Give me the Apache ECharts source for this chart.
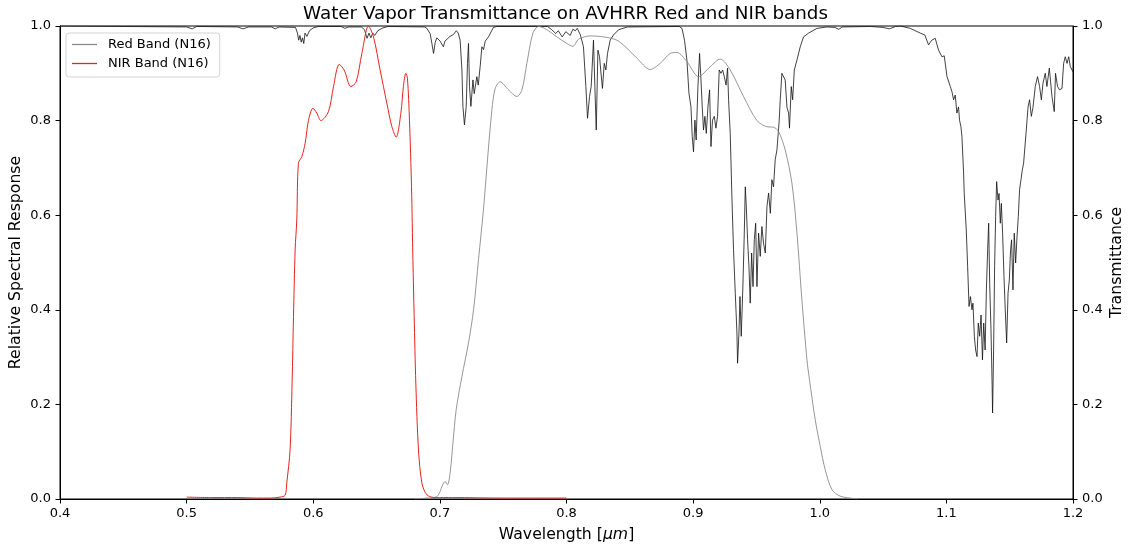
<!DOCTYPE html>
<html>
<head>
<meta charset="utf-8">
<script src="https://cdn.jsdelivr.net/npm/echarts@6/dist/echarts.min.js"></script>
<style>
html,body{margin:0;padding:0;background:#fff;}
#chart{width:1131px;height:548px;}
</style>
</head>
<body>
<div id="chart"></div>
<script>
// ---- data (wavelength in µm, value) ----
const chartTitle = 'Water Vapor Transmittance on AVHRR Red and NIR bands';
const redBandName = 'Red Band (N16)';
const nirBandName = 'NIR Band (N16)';
const xTicks = [0.4, 0.5, 0.6, 0.7, 0.8, 0.9, 1.0, 1.1, 1.2];
const yTicks = [0.0, 0.2, 0.4, 0.6, 0.8, 1.0];

// red-coloured curve (legend "NIR Band (N16)")
const nirBand = [[0.500,0.004],[0.520,0.003],[0.540,0.003],[0.555,0.002],[0.566,0.002],[0.5738,0.004],[0.5778,0.008],
 [0.5791,0.034],[0.5817,0.104],[0.5833,0.246],[0.5844,0.386],[0.5857,0.527],[0.5870,0.590],[0.5883,0.710],[0.5910,0.724],
 [0.5936,0.752],[0.5962,0.800],[0.5997,0.826],[0.6028,0.816],[0.6060,0.800],[0.6120,0.819],[0.6160,0.872],[0.6205,0.919],
 [0.6244,0.907],[0.6297,0.872],[0.6339,0.882],[0.6384,0.942],[0.6436,1.000],[0.6476,0.977],[0.6528,0.907],[0.6581,0.837],
 [0.6621,0.787],[0.6655,0.765],[0.6692,0.816],[0.6712,0.872],[0.6731,0.900],[0.6744,0.889],[0.6760,0.800],[0.6776,0.660],
 [0.6787,0.506],[0.6797,0.386],[0.6810,0.245],[0.6831,0.104],[0.6858,0.034],[0.6897,0.009],[0.6963,0.003],[0.7100,0.003],
 [0.7500,0.002],[0.8000,0.002]];

// grey curve (legend "Red Band (N16)")
const redBand = [[0.680,0.000],[0.690,0.002],[0.6976,0.005],[0.7029,0.034],[0.7042,0.037],[0.7060,0.030],[0.7081,0.055],
 [0.7103,0.118],[0.7129,0.189],[0.7174,0.259],[0.7226,0.330],[0.7266,0.400],[0.7305,0.506],[0.7344,0.611],[0.7376,0.717],
 [0.7411,0.823],[0.7437,0.868],[0.7476,0.882],[0.7542,0.865],[0.7608,0.851],[0.7648,0.865],[0.7687,0.921],[0.7735,0.985],
 [0.7780,0.999],[0.7840,0.993],[0.7924,0.977],[0.8003,0.963],[0.8050,0.957],[0.8095,0.972],[0.8187,0.979],[0.8292,0.977],
 [0.8398,0.970],[0.8477,0.953],[0.8556,0.932],[0.8661,0.908],[0.8740,0.921],[0.8819,0.942],[0.8872,0.944],[0.8950,0.925],
 [0.9043,0.893],[0.9135,0.914],[0.9214,0.930],[0.9293,0.907],[0.9398,0.851],[0.9504,0.800],[0.9583,0.787],[0.9635,0.786],
 [0.9675,0.777],[0.9727,0.738],[0.9780,0.668],[0.9820,0.562],[0.9859,0.421],[0.9899,0.294],[0.9919,0.252],[0.9964,0.168],
 [1.0004,0.111],[1.0043,0.062],[1.0096,0.020],[1.0162,0.006],[1.0267,0.001],[1.0300,0.000]];

// black curve: water vapour transmittance (right axis)
const transmittance = [[0.400,1.000],[0.450,0.999],[0.500,0.998],[0.5044,0.994],[0.508,0.999],[0.540,0.998],[0.5446,0.994],[0.549,0.998],
 [0.567,0.998],[0.570,0.994],[0.573,0.998],[0.586,0.997],[0.5875,0.985],[0.5885,0.970],[0.5895,0.980],[0.5905,0.966],[0.5915,0.975],
 [0.5925,0.963],[0.5935,0.985],[0.595,0.978],[0.597,0.990],[0.600,0.996],[0.604,0.999],[0.622,0.999],[0.625,0.995],[0.628,0.998],
 [0.638,0.998],[0.6405,0.992],[0.6425,0.974],[0.644,0.985],[0.6455,0.975],[0.647,0.985],[0.6485,0.980],[0.651,0.990],[0.655,0.996],
 [0.659,0.999],[0.688,0.998],[0.6897,0.995],[0.6923,0.984],[0.6937,0.963],[0.695,0.942],[0.6963,0.965],[0.6976,0.975],[0.7002,0.968],
 [0.7028,0.956],[0.704,0.968],[0.7055,0.972],[0.708,0.978],[0.7107,0.982],[0.713,0.990],[0.7145,0.985],[0.716,0.970],[0.7174,0.907],
 [0.7182,0.830],[0.7194,0.791],[0.7208,0.830],[0.7218,0.921],[0.7226,0.963],[0.7234,0.872],[0.7245,0.830],[0.7261,0.886],[0.7271,0.857],
 [0.7292,0.893],[0.7303,0.875],[0.7318,0.914],[0.7332,0.956],[0.7345,0.950],[0.7358,0.968],[0.7384,0.977],[0.7423,0.997],[0.745,0.999],
 [0.785,0.999],[0.788,0.993],[0.7915,0.984],[0.7935,0.990],[0.7966,0.977],[0.7995,0.988],[0.8029,0.980],[0.805,0.993],[0.807,0.990],
 [0.8085,0.995],[0.811,0.981],[0.8134,0.956],[0.8153,0.872],[0.8166,0.805],[0.8182,0.851],[0.8195,0.872],[0.8213,0.970],[0.8224,0.872],
 [0.8235,0.780],[0.8248,0.949],[0.8261,0.935],[0.827,0.907],[0.8284,0.868],[0.8298,0.921],[0.8311,0.907],[0.8324,0.942],[0.8345,0.970],
 [0.8371,0.981],[0.8411,0.992],[0.848,0.998],[0.889,0.999],[0.8912,0.995],[0.8932,0.970],[0.8951,0.928],[0.8967,0.858],[0.8983,0.829],
 [0.8993,0.766],[0.9003,0.734],[0.9014,0.801],[0.9024,0.759],[0.9038,0.872],[0.9051,0.942],[0.9062,0.886],[0.9072,0.829],[0.9082,0.780],
 [0.9093,0.809],[0.9104,0.773],[0.9117,0.829],[0.9130,0.865],[0.9141,0.745],[0.9153,0.801],[0.9167,0.809],[0.918,0.784],[0.9193,0.809],
 [0.9206,0.907],[0.922,0.900],[0.9233,0.907],[0.9246,0.893],[0.926,0.875],[0.9272,0.911],[0.928,0.844],[0.9293,0.773],[0.9307,0.632],
 [0.9319,0.527],[0.9333,0.435],[0.9346,0.351],[0.9351,0.287],[0.9362,0.351],[0.937,0.428],[0.938,0.344],[0.9393,0.449],[0.9404,0.562],
 [0.9412,0.660],[0.942,0.618],[0.943,0.548],[0.9441,0.491],[0.9451,0.414],[0.9462,0.520],[0.9473,0.449],[0.9483,0.548],[0.9494,0.583],
 [0.9504,0.449],[0.9517,0.562],[0.953,0.513],[0.9543,0.576],[0.9556,0.541],[0.957,0.520],[0.9583,0.618],[0.9596,0.647],[0.961,0.604],
 [0.9622,0.675],[0.9635,0.660],[0.9648,0.717],[0.9662,0.738],[0.9672,0.773],[0.968,0.801],[0.9688,0.844],[0.9701,0.900],[0.9714,0.903],
 [0.9727,0.886],[0.9741,0.828],[0.9754,0.816],[0.9761,0.784],[0.9775,0.872],[0.9786,0.844],[0.9799,0.907],[0.982,0.928],[0.9846,0.956],
 [0.9872,0.977],[0.9912,0.985],[0.9978,0.995],[1.0057,0.998],[1.012,0.997],[1.015,0.993],[1.018,0.998],[1.040,0.999],[1.050,0.997],
 [1.055,0.994],[1.060,0.999],[1.0636,1.000],[1.0715,0.995],[1.0794,0.985],[1.083,0.981],[1.0859,0.960],[1.0885,0.970],[1.0912,0.974],
 [1.0938,0.949],[1.0965,0.935],[1.0983,0.937],[1.1005,0.893],[1.1031,0.872],[1.1044,0.861],[1.1057,0.844],[1.107,0.854],[1.1083,0.816],
 [1.1096,0.829],[1.1104,0.801],[1.1115,0.787],[1.1123,0.766],[1.1136,0.689],[1.1141,0.646],[1.1157,0.569],[1.1168,0.491],[1.1179,0.407],
 [1.119,0.428],[1.1202,0.400],[1.121,0.414],[1.1221,0.344],[1.1231,0.315],[1.1242,0.301],[1.1252,0.372],[1.1263,0.344],[1.1274,0.389],
 [1.1285,0.294],[1.1295,0.372],[1.1306,0.315],[1.1316,0.442],[1.1326,0.527],[1.1334,0.583],[1.1342,0.456],[1.1353,0.351],[1.1361,0.245],
 [1.1365,0.182],[1.1373,0.315],[1.1381,0.491],[1.1389,0.597],[1.1397,0.671],[1.1408,0.632],[1.1416,0.646],[1.1426,0.583],[1.1434,0.625],
 [1.1444,0.562],[1.1455,0.470],[1.1465,0.400],[1.1476,0.330],[1.1487,0.435],[1.1497,0.463],[1.1507,0.527],[1.1515,0.548],[1.1526,0.442],
 [1.1536,0.562],[1.1547,0.499],[1.1558,0.555],[1.1568,0.597],[1.1578,0.654],[1.1589,0.675],[1.160,0.696],[1.161,0.710],[1.1631,0.780],
 [1.1645,0.829],[1.1657,0.844],[1.1671,0.809],[1.1684,0.828],[1.1702,0.872],[1.172,0.893],[1.1736,0.872],[1.175,0.844],[1.1763,0.879],
 [1.1781,0.900],[1.1794,0.872],[1.1813,0.911],[1.1834,0.851],[1.1852,0.819],[1.1862,0.900],[1.1878,0.872],[1.1894,0.865],[1.1913,0.868],
 [1.1926,0.921],[1.1939,0.935],[1.1953,0.921],[1.1966,0.935],[1.1979,0.914],[1.200,0.903]];

const FONT = '"DejaVu Sans", sans-serif';
const chart = echarts.init(document.getElementById('chart'), null, {renderer: 'canvas'});

const yAxisBase = {
  type: 'value', min: 0, max: 1, interval: 0.2,
  nameLocation: 'middle', nameMoveOverlap: false,
  nameTextStyle: {fontFamily: FONT, fontSize: 15.7, color: '#000'},
  axisLine: {show: true, lineStyle: {color: '#000', width: 1}},
  axisTick: {show: true, length: 4.5, lineStyle: {color: '#000', width: 1}},
  axisLabel: {fontFamily: FONT, fontSize: 13, color: '#000', margin: 9,
    formatter: v => v.toFixed(1)},
  splitLine: {show: false}
};

chart.setOption({
  animation: false,
  backgroundColor: '#fff',
  title: {
    text: chartTitle, left: 'center', top: 0,
    textStyle: {fontFamily: FONT, fontSize: 18.3, fontWeight: 'normal', color: '#000'}
  },
  grid: {left: 60, right: 58, top: 26, bottom: 49, containLabel: false, outerBoundsMode: 'none',
    show: true, borderColor: '#000', borderWidth: 1, backgroundColor: 'transparent'},
  legend: {
    data: [redBandName, nirBandName],
    orient: 'vertical', left: 66, top: 33,
    icon: 'rect', itemWidth: 25, itemHeight: 1.3, itemGap: 4,
    padding: [4, 9, 6, 6],
    backgroundColor: 'rgba(255,255,255,0.85)', borderColor: '#d3d3d3', borderWidth: 1, borderRadius: 3,
    textStyle: {fontFamily: FONT, fontSize: 13, color: '#000', lineHeight: 15, padding: [0, 0, 0, 6]}
  },
  xAxis: {
    type: 'value', min: 0.4, max: 1.2, interval: 0.1,
    name: 'Wavelength [{i|μm}]', nameLocation: 'middle', nameGap: 28, nameMoveOverlap: false,
    nameTextStyle: {fontFamily: FONT, fontSize: 15.7, color: '#000',
      rich: {i: {fontFamily: FONT, fontSize: 15.7, fontStyle: 'italic', color: '#000'}}},
    axisLine: {show: true, onZero: false, lineStyle: {color: '#000', width: 1}},
    axisTick: {show: true, length: 4.5, lineStyle: {color: '#000', width: 1}},
    axisLabel: {fontFamily: FONT, fontSize: 13, color: '#000', margin: 8,
      formatter: v => v.toFixed(1)},
    splitLine: {show: false}
  },
  yAxis: [
    Object.assign({}, yAxisBase, {position: 'left', name: 'Relative Spectral Response', nameGap: 36}),
    Object.assign({}, yAxisBase, {position: 'right', name: 'Transmittance', nameGap: 36})
  ],
  series: [
    {
      name: 'Transmittance', type: 'line', yAxisIndex: 1, data: transmittance,
      showSymbol: false, symbol: 'none', smooth: false,
      lineStyle: {color: '#111', width: 0.8}, z: 2
    },
    {
      name: redBandName, type: 'line', yAxisIndex: 0, data: redBand,
      showSymbol: false, symbol: 'none', smooth: 0.3,
      itemStyle: {color: '#8a8a8a'},
      lineStyle: {color: '#8a8a8a', width: 0.9}, z: 3
    },
    {
      name: nirBandName, type: 'line', yAxisIndex: 0, data: nirBand,
      showSymbol: false, symbol: 'none', smooth: 0.3,
      itemStyle: {color: '#e8231f'},
      lineStyle: {color: '#e8231f', width: 1}, z: 4
    }
  ]
});
</script>
</body>
</html>
